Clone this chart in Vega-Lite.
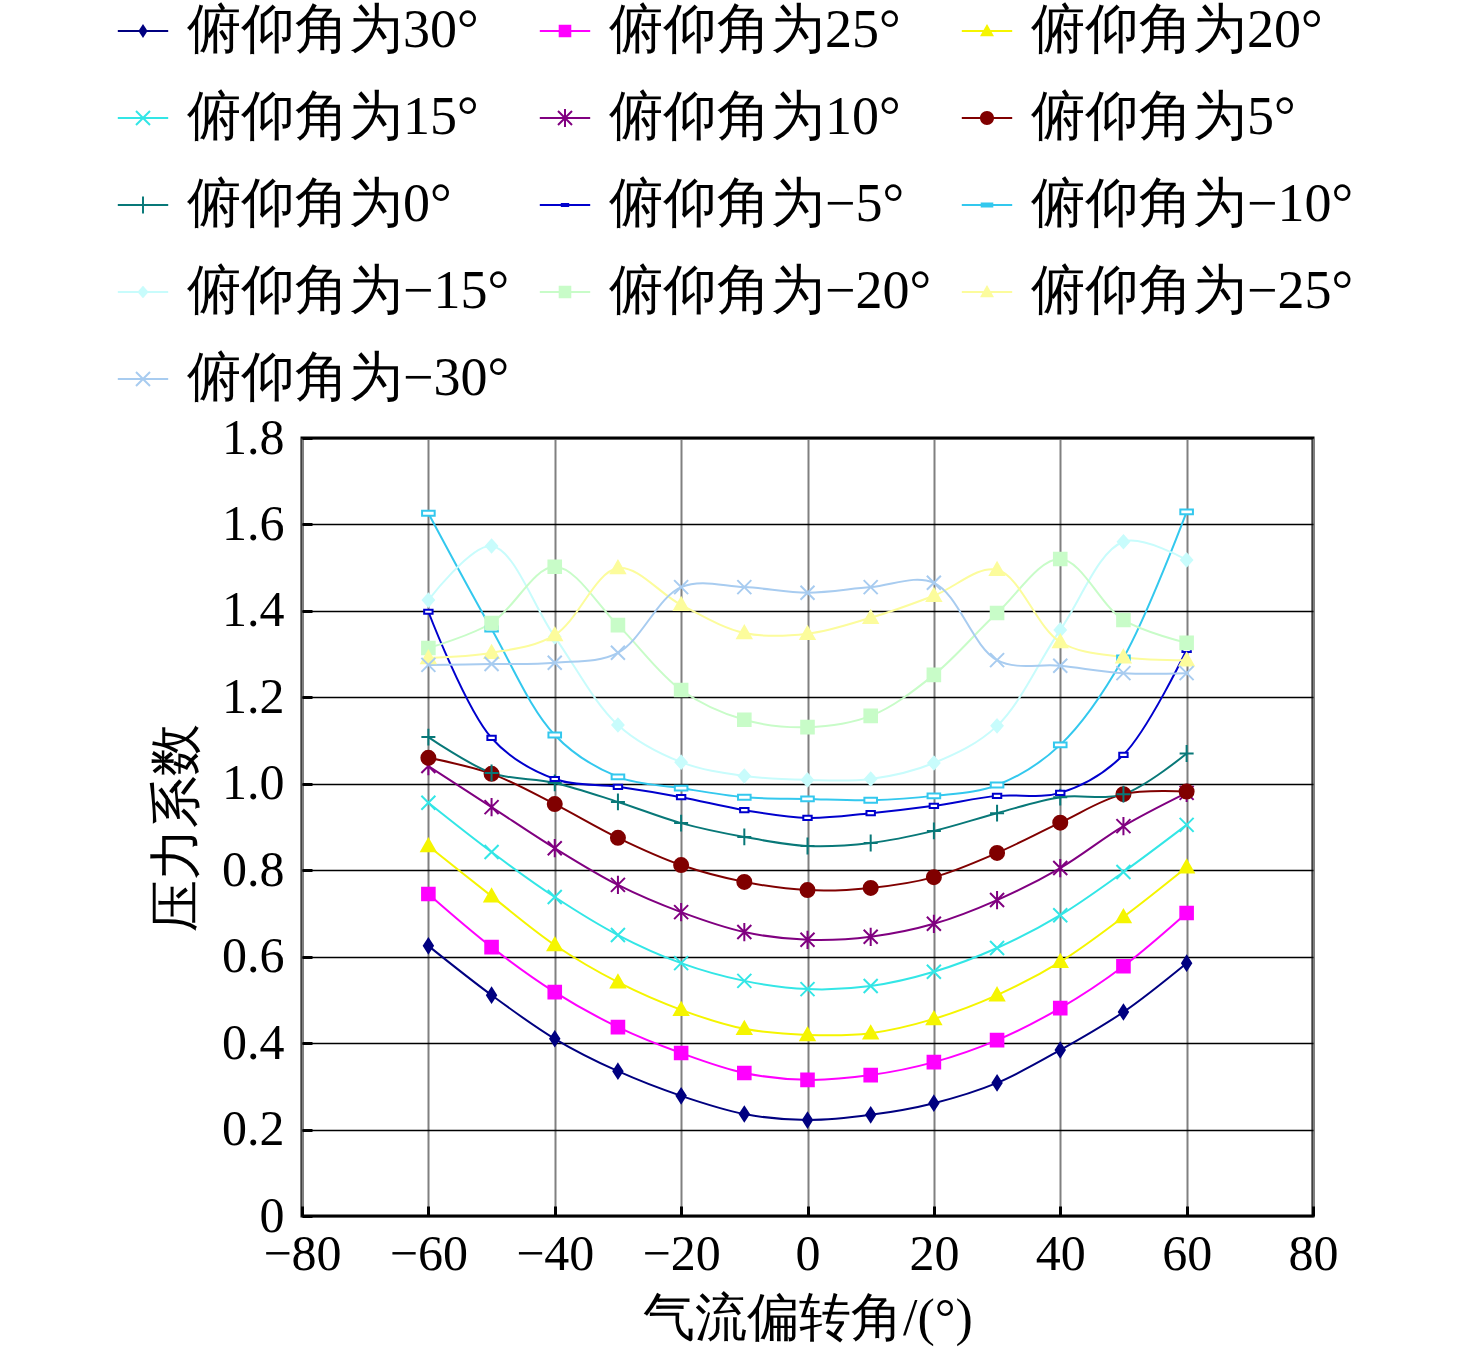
{
  "$schema": "https://vega.github.io/schema/vega-lite/v6.json",
  "width": 1011,
  "height": 778,
  "autosize": {"type": "none"},
  "padding": {"left": 302, "top": 438, "right": 163, "bottom": 140},
  "background": "white",
  "config": {
    "view": {"stroke": "black", "strokeWidth": 3},
    "font": "Liberation Serif"
  },
  "data": {
    "values": [
      {"s": "俯仰角为30°", "x": -60, "y": 0.625}, {"s": "俯仰角为30°", "x": -50, "y": 0.511}, {"s": "俯仰角为30°", "x": -40, "y": 0.41}, {"s": "俯仰角为30°", "x": -30, "y": 0.335}, {"s": "俯仰角为30°", "x": -20, "y": 0.278}, {"s": "俯仰角为30°", "x": -10, "y": 0.236}, {"s": "俯仰角为30°", "x": 0, "y": 0.222}, {"s": "俯仰角为30°", "x": 10, "y": 0.234}, {"s": "俯仰角为30°", "x": 20, "y": 0.261}, {"s": "俯仰角为30°", "x": 30, "y": 0.308}, {"s": "俯仰角为30°", "x": 40, "y": 0.384}, {"s": "俯仰角为30°", "x": 50, "y": 0.472}, {"s": "俯仰角为30°", "x": 60, "y": 0.585},
      {"s": "俯仰角为25°", "x": -60, "y": 0.745}, {"s": "俯仰角为25°", "x": -50, "y": 0.622}, {"s": "俯仰角为25°", "x": -40, "y": 0.518}, {"s": "俯仰角为25°", "x": -30, "y": 0.437}, {"s": "俯仰角为25°", "x": -20, "y": 0.377}, {"s": "俯仰角为25°", "x": -10, "y": 0.331}, {"s": "俯仰角为25°", "x": 0, "y": 0.315}, {"s": "俯仰角为25°", "x": 10, "y": 0.326}, {"s": "俯仰角为25°", "x": 20, "y": 0.356}, {"s": "俯仰角为25°", "x": 30, "y": 0.407}, {"s": "俯仰角为25°", "x": 40, "y": 0.481}, {"s": "俯仰角为25°", "x": 50, "y": 0.578}, {"s": "俯仰角为25°", "x": 60, "y": 0.701},
      {"s": "俯仰角为20°", "x": -60, "y": 0.856}, {"s": "俯仰角为20°", "x": -50, "y": 0.74}, {"s": "俯仰角为20°", "x": -40, "y": 0.627}, {"s": "俯仰角为20°", "x": -30, "y": 0.541}, {"s": "俯仰角为20°", "x": -20, "y": 0.477}, {"s": "俯仰角为20°", "x": -10, "y": 0.433}, {"s": "俯仰角为20°", "x": 0, "y": 0.419}, {"s": "俯仰角为20°", "x": 10, "y": 0.423}, {"s": "俯仰角为20°", "x": 20, "y": 0.456}, {"s": "俯仰角为20°", "x": 30, "y": 0.511}, {"s": "俯仰角为20°", "x": 40, "y": 0.588}, {"s": "俯仰角为20°", "x": 50, "y": 0.692}, {"s": "俯仰角为20°", "x": 60, "y": 0.807},
      {"s": "俯仰角为15°", "x": -60, "y": 0.956}, {"s": "俯仰角为15°", "x": -50, "y": 0.842}, {"s": "俯仰角为15°", "x": -40, "y": 0.738}, {"s": "俯仰角为15°", "x": -30, "y": 0.65}, {"s": "俯仰角为15°", "x": -20, "y": 0.585}, {"s": "俯仰角为15°", "x": -10, "y": 0.544}, {"s": "俯仰角为15°", "x": 0, "y": 0.525}, {"s": "俯仰角为15°", "x": 10, "y": 0.532}, {"s": "俯仰角为15°", "x": 20, "y": 0.565}, {"s": "俯仰角为15°", "x": 30, "y": 0.62}, {"s": "俯仰角为15°", "x": 40, "y": 0.696}, {"s": "俯仰角为15°", "x": 50, "y": 0.796}, {"s": "俯仰角为15°", "x": 60, "y": 0.905},
      {"s": "俯仰角为10°", "x": -60, "y": 1.041}, {"s": "俯仰角为10°", "x": -50, "y": 0.946}, {"s": "俯仰角为10°", "x": -40, "y": 0.851}, {"s": "俯仰角为10°", "x": -30, "y": 0.766}, {"s": "俯仰角为10°", "x": -20, "y": 0.703}, {"s": "俯仰角为10°", "x": -10, "y": 0.657}, {"s": "俯仰角为10°", "x": 0, "y": 0.639}, {"s": "俯仰角为10°", "x": 10, "y": 0.646}, {"s": "俯仰角为10°", "x": 20, "y": 0.676}, {"s": "俯仰角为10°", "x": 30, "y": 0.731}, {"s": "俯仰角为10°", "x": 40, "y": 0.805}, {"s": "俯仰角为10°", "x": 50, "y": 0.902}, {"s": "俯仰角为10°", "x": 60, "y": 0.979},
      {"s": "俯仰角为5°", "x": -60, "y": 1.06}, {"s": "俯仰角为5°", "x": -50, "y": 1.023}, {"s": "俯仰角为5°", "x": -40, "y": 0.953}, {"s": "俯仰角为5°", "x": -30, "y": 0.875}, {"s": "俯仰角为5°", "x": -20, "y": 0.812}, {"s": "俯仰角为5°", "x": -10, "y": 0.773}, {"s": "俯仰角为5°", "x": 0, "y": 0.754}, {"s": "俯仰角为5°", "x": 10, "y": 0.759}, {"s": "俯仰角为5°", "x": 20, "y": 0.784}, {"s": "俯仰角为5°", "x": 30, "y": 0.84}, {"s": "俯仰角为5°", "x": 40, "y": 0.91}, {"s": "俯仰角为5°", "x": 50, "y": 0.976}, {"s": "俯仰角为5°", "x": 60, "y": 0.982},
      {"s": "俯仰角为0°", "x": -60, "y": 1.108}, {"s": "俯仰角为0°", "x": -50, "y": 1.025}, {"s": "俯仰角为0°", "x": -40, "y": 1.002}, {"s": "俯仰角为0°", "x": -30, "y": 0.958}, {"s": "俯仰角为0°", "x": -20, "y": 0.909}, {"s": "俯仰角为0°", "x": -10, "y": 0.877}, {"s": "俯仰角为0°", "x": 0, "y": 0.856}, {"s": "俯仰角为0°", "x": 10, "y": 0.863}, {"s": "俯仰角为0°", "x": 20, "y": 0.891}, {"s": "俯仰角为0°", "x": 30, "y": 0.932}, {"s": "俯仰角为0°", "x": 40, "y": 0.969}, {"s": "俯仰角为0°", "x": 50, "y": 0.976}, {"s": "俯仰角为0°", "x": 60, "y": 1.07},
      {"s": "俯仰角为−5°", "x": -60, "y": 1.398}, {"s": "俯仰角为−5°", "x": -50, "y": 1.106}, {"s": "俯仰角为−5°", "x": -40, "y": 1.011}, {"s": "俯仰角为−5°", "x": -30, "y": 0.993}, {"s": "俯仰角为−5°", "x": -20, "y": 0.969}, {"s": "俯仰角为−5°", "x": -10, "y": 0.939}, {"s": "俯仰角为−5°", "x": 0, "y": 0.921}, {"s": "俯仰角为−5°", "x": 10, "y": 0.932}, {"s": "俯仰角为−5°", "x": 20, "y": 0.949}, {"s": "俯仰角为−5°", "x": 30, "y": 0.972}, {"s": "俯仰角为−5°", "x": 40, "y": 0.979}, {"s": "俯仰角为−5°", "x": 50, "y": 1.067}, {"s": "俯仰角为−5°", "x": 60, "y": 1.31},
      {"s": "俯仰角为−10°", "x": -60, "y": 1.626}, {"s": "俯仰角为−10°", "x": -50, "y": 1.358}, {"s": "俯仰角为−10°", "x": -40, "y": 1.113}, {"s": "俯仰角为−10°", "x": -30, "y": 1.016}, {"s": "俯仰角为−10°", "x": -20, "y": 0.99}, {"s": "俯仰角为−10°", "x": -10, "y": 0.969}, {"s": "俯仰角为−10°", "x": 0, "y": 0.965}, {"s": "俯仰角为−10°", "x": 10, "y": 0.962}, {"s": "俯仰角为−10°", "x": 20, "y": 0.972}, {"s": "俯仰角为−10°", "x": 30, "y": 0.997}, {"s": "俯仰角为−10°", "x": 40, "y": 1.09}, {"s": "俯仰角为−10°", "x": 50, "y": 1.291}, {"s": "俯仰角为−10°", "x": 60, "y": 1.629},
      {"s": "俯仰角为−15°", "x": -60, "y": 1.425}, {"s": "俯仰角为−15°", "x": -50, "y": 1.55}, {"s": "俯仰角为−15°", "x": -40, "y": 1.34}, {"s": "俯仰角为−15°", "x": -30, "y": 1.136}, {"s": "俯仰角为−15°", "x": -20, "y": 1.05}, {"s": "俯仰角为−15°", "x": -10, "y": 1.018}, {"s": "俯仰角为−15°", "x": 0, "y": 1.009}, {"s": "俯仰角为−15°", "x": 10, "y": 1.011}, {"s": "俯仰角为−15°", "x": 20, "y": 1.048}, {"s": "俯仰角为−15°", "x": 30, "y": 1.134}, {"s": "俯仰角为−15°", "x": 40, "y": 1.356}, {"s": "俯仰角为−15°", "x": 50, "y": 1.56}, {"s": "俯仰角为−15°", "x": 60, "y": 1.518},
      {"s": "俯仰角为−20°", "x": -60, "y": 1.314}, {"s": "俯仰角为−20°", "x": -50, "y": 1.372}, {"s": "俯仰角为−20°", "x": -40, "y": 1.502}, {"s": "俯仰角为−20°", "x": -30, "y": 1.367}, {"s": "俯仰角为−20°", "x": -20, "y": 1.217}, {"s": "俯仰角为−20°", "x": -10, "y": 1.148}, {"s": "俯仰角为−20°", "x": 0, "y": 1.131}, {"s": "俯仰角为−20°", "x": 10, "y": 1.157}, {"s": "俯仰角为−20°", "x": 20, "y": 1.252}, {"s": "俯仰角为−20°", "x": 30, "y": 1.395}, {"s": "俯仰角为−20°", "x": 40, "y": 1.52}, {"s": "俯仰角为−20°", "x": 50, "y": 1.379}, {"s": "俯仰角为−20°", "x": 60, "y": 1.326},
      {"s": "俯仰角为−25°", "x": -60, "y": 1.291}, {"s": "俯仰角为−25°", "x": -50, "y": 1.303}, {"s": "俯仰角为−25°", "x": -40, "y": 1.344}, {"s": "俯仰角为−25°", "x": -30, "y": 1.499}, {"s": "俯仰角为−25°", "x": -20, "y": 1.414}, {"s": "俯仰角为−25°", "x": -10, "y": 1.349}, {"s": "俯仰角为−25°", "x": 0, "y": 1.347}, {"s": "俯仰角为−25°", "x": 10, "y": 1.384}, {"s": "俯仰角为−25°", "x": 20, "y": 1.435}, {"s": "俯仰角为−25°", "x": 30, "y": 1.495}, {"s": "俯仰角为−25°", "x": 40, "y": 1.328}, {"s": "俯仰角为−25°", "x": 50, "y": 1.293}, {"s": "俯仰角为−25°", "x": 60, "y": 1.286},
      {"s": "俯仰角为−30°", "x": -60, "y": 1.275}, {"s": "俯仰角为−30°", "x": -50, "y": 1.277}, {"s": "俯仰角为−30°", "x": -40, "y": 1.28}, {"s": "俯仰角为−30°", "x": -30, "y": 1.303}, {"s": "俯仰角为−30°", "x": -20, "y": 1.455}, {"s": "俯仰角为−30°", "x": -10, "y": 1.455}, {"s": "俯仰角为−30°", "x": 0, "y": 1.442}, {"s": "俯仰角为−30°", "x": 10, "y": 1.455}, {"s": "俯仰角为−30°", "x": 20, "y": 1.465}, {"s": "俯仰角为−30°", "x": 30, "y": 1.286}, {"s": "俯仰角为−30°", "x": 40, "y": 1.273}, {"s": "俯仰角为−30°", "x": 50, "y": 1.256}, {"s": "俯仰角为−30°", "x": 60, "y": 1.256}
    ]
  },
  "encoding": {
    "x": {
      "field": "x",
      "type": "quantitative",
      "scale": {"domain": [-80, 80], "nice": false},
      "axis": {
        "values": [-80, -60, -40, -20, 0, 20, 40, 60, 80],
        "title": "气流偏转角/(°)",
        "grid": true,
        "gridColor": "#808080",
        "gridWidth": 2,
        "domain": false,
        "ticks": true,
        "tickColor": "black",
        "tickWidth": 3,
        "tickSize": -10,
        "labelFont": "Liberation Serif",
        "labelFontSize": 50,
        "labelColor": "black",
        "labelPadding": 23,
        "labelFlush": false,
        "titleFont": "Liberation Serif",
        "titleFontSize": 52,
        "titleFontWeight": "normal",
        "titleColor": "black",
        "titlePadding": 14
      }
    },
    "y": {
      "field": "y",
      "type": "quantitative",
      "scale": {"domain": [0, 1.8], "nice": false},
      "axis": {
        "values": [0, 0.2, 0.4, 0.6, 0.8, 1.0, 1.2, 1.4, 1.6, 1.8],
        "labelExpr": "datum.value == 0 ? '0' : format(datum.value, '.1f')",
        "title": "压力系数",
        "grid": true,
        "gridColor": "black",
        "gridWidth": 1.5,
        "domain": false,
        "ticks": true,
        "tickColor": "black",
        "tickWidth": 3,
        "tickSize": -10,
        "labelFont": "Liberation Serif",
        "labelFontSize": 50,
        "labelColor": "black",
        "labelPadding": 28,
        "labelFlush": false,
        "titleFont": "Liberation Serif",
        "titleFontSize": 52,
        "titleFontWeight": "normal",
        "titleColor": "black",
        "titlePadding": 18
      }
    }
  },
  "layer": [
    {
      "mark": {"type": "point", "filled": true, "size": 0, "opacity": 1},
      "encoding": {
        "color": {
          "field": "s",
          "type": "nominal",
          "scale": {
            "domain": ["俯仰角为30°", "俯仰角为25°", "俯仰角为20°", "俯仰角为15°", "俯仰角为10°", "俯仰角为5°", "俯仰角为0°", "俯仰角为−5°", "俯仰角为−10°", "俯仰角为−15°", "俯仰角为−20°", "俯仰角为−25°", "俯仰角为−30°"],
            "range": ["#000080", "#FF00FF", "#F5F500", "#33E6E6", "#800080", "#800000", "#087878", "#0000CD", "#33C8EE", "#C8FCFC", "#C8FCC8", "#FCFC9C", "#A8CCF0"]
          },
          "legend": {
            "title": null,
            "orient": "none",
            "direction": "horizontal",
            "legendX": -186,
            "legendY": -434,
            "columns": 3,
            "columnPadding": 28,
            "rowPadding": 33,
            "padding": 0,
            "symbolSize": 196,
            "symbolOpacity": 1,
            "symbolStrokeWidth": 0,
            "labelOffset": 17,
            "labelFont": "Liberation Serif",
            "labelFontSize": 54,
            "labelColor": "black",
            "labelLimit": 0
          }
        },
        "shape": {
          "field": "s",
          "type": "nominal",
          "scale": {
            "domain": ["俯仰角为30°", "俯仰角为25°", "俯仰角为20°", "俯仰角为15°", "俯仰角为10°", "俯仰角为5°", "俯仰角为0°", "俯仰角为−5°", "俯仰角为−10°", "俯仰角为−15°", "俯仰角为−20°", "俯仰角为−25°", "俯仰角为−30°"],
            "range": [
              "M-3.6,-0.14H3.6V0.14H-3.6Z M0,-1L0.65,0L0,1L-0.65,0Z",
              "M-3.6,-0.14H3.6V0.14H-3.6Z M-0.9,-0.9H0.9V0.9H-0.9Z",
              "M-3.6,-0.14H3.6V0.14H-3.6Z M0,-1L1,0.75H-1Z",
              "M-3.6,-0.14H3.6V0.14H-3.6Z M-0.9,-1.1L1.1,0.9L0.9,1.1L-1.1,-0.9Z M1.1,-0.9L-0.9,1.1L-1.1,0.9L0.9,-1.1Z",
              "M-3.6,-0.14H3.6V0.14H-3.6Z M-0.9,-1.1L1.1,0.9L0.9,1.1L-1.1,-0.9Z M1.1,-0.9L-0.9,1.1L-1.1,0.9L0.9,-1.1Z M-0.14,-1.3H0.14V1.3H-0.14Z",
              "M-3.6,-0.14H3.6V0.14H-3.6Z M1,0A1,1,0,1,1,-1,0A1,1,0,1,1,1,0Z",
              "M-3.6,-0.14H3.6V0.14H-3.6Z M-0.14,-1.2H0.14V1.2H-0.14Z",
              "M-3.6,-0.14H3.6V0.14H-3.6Z M-0.6,-0.3H0.6V0.3H-0.6Z",
              "M-3.6,-0.14H3.6V0.14H-3.6Z M-0.9,-0.35H0.9V0.35H-0.9Z",
              "M-3.6,-0.14H3.6V0.14H-3.6Z M0,-0.9L0.8,0L0,0.9L-0.8,0Z",
              "M-3.6,-0.14H3.6V0.14H-3.6Z M-0.9,-0.9H0.9V0.9H-0.9Z",
              "M-3.6,-0.14H3.6V0.14H-3.6Z M0,-1L1,0.75H-1Z",
              "M-3.6,-0.14H3.6V0.14H-3.6Z M-0.9,-1.1L1.1,0.9L0.9,1.1L-1.1,-0.9Z M1.1,-0.9L-0.9,1.1L-1.1,0.9L0.9,-1.1Z"
            ]
          }
        }
      }
    },
    {
      "mark": {"type": "line", "interpolate": "catmull-rom", "strokeWidth": 2},
      "encoding": {
        "color": {"field": "s", "type": "nominal"}
      }
    },
    {
      "mark": {
        "type": "point",
        "filled": true,
        "size": 196,
        "opacity": 1,
        "strokeWidth": 2,
        "shape": {"expr": "['M0,-1L0.65,0L0,1L-0.65,0Z', 'M-0.9,-0.9H0.9V0.9H-0.9Z', 'M0,-1L1,0.75H-1Z', 'M-1,-1L1,1M1,-1L-1,1', 'M-1,-1L1,1M1,-1L-1,1M0,-1.3V1.3', 'circle', 'M-1,0H1M0,-1.2V1.2', 'M-0.6,-0.3H0.6V0.3H-0.6Z', 'M-0.9,-0.35H0.9V0.35H-0.9Z', 'M0,-0.9L0.8,0L0,0.9L-0.8,0Z', 'M-0.9,-0.9H0.9V0.9H-0.9Z', 'M0,-1L1,0.75H-1Z', 'M-1,-1L1,1M1,-1L-1,1'][indexof(['俯仰角为30°', '俯仰角为25°', '俯仰角为20°', '俯仰角为15°', '俯仰角为10°', '俯仰角为5°', '俯仰角为0°', '俯仰角为−5°', '俯仰角为−10°', '俯仰角为−15°', '俯仰角为−20°', '俯仰角为−25°', '俯仰角为−30°'], datum.s)]"},
        "stroke": {"expr": "scale('color', datum.s)"},
        "fill": {"expr": "indexof(['俯仰角为−5°', '俯仰角为−10°'], datum.s) >= 0 ? 'white' : scale('color', datum.s)"}
      },
      "encoding": {}
    }
  ]
}
